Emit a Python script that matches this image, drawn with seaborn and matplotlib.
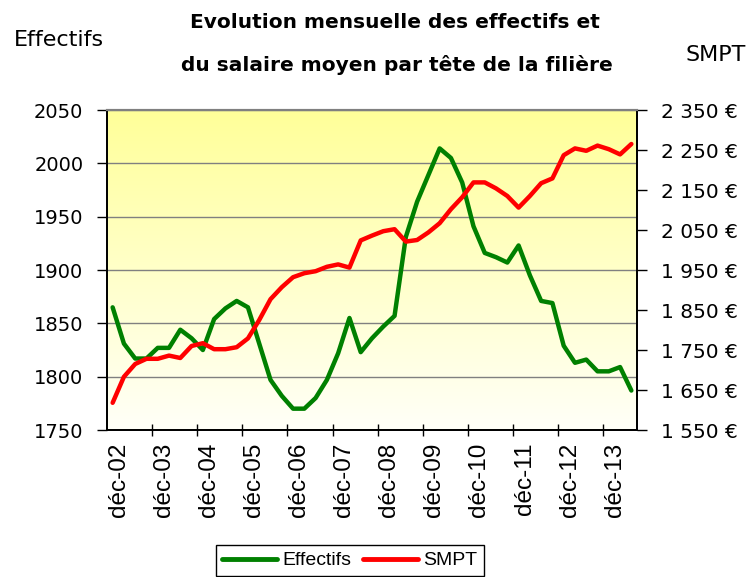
import numpy as np
import pandas as pd
import matplotlib
matplotlib.use("Agg")
import matplotlib.pyplot as plt
import seaborn as sns
from matplotlib.colors import LinearSegmentedColormap
from matplotlib.transforms import ScaledTranslation
from matplotlib.lines import Line2D

# ---- data (quarterly, déc-02 .. juin-14) ----
effectifs = [1865, 1831, 1817, 1817, 1827, 1827, 1844, 1836, 1825, 1854,
             1864, 1871, 1865, 1831, 1797, 1782, 1770, 1770, 1780, 1797,
             1822, 1855, 1823, 1836, 1847, 1857, 1931, 1964, 1989, 2014,
             2005, 1982, 1941, 1916, 1912, 1907, 1923, 1895, 1871, 1869,
             1829, 1813, 1816, 1805, 1805, 1809, 1787]
smpt = [1618, 1683, 1715, 1728, 1728, 1736, 1730, 1760, 1767, 1752,
        1752, 1757, 1779, 1825, 1877, 1907, 1932, 1942, 1947, 1958,
        1964, 1956, 2024, 2036, 2047, 2052, 2021, 2025, 2044, 2067,
        2102, 2132, 2169, 2169, 2154, 2135, 2106, 2135, 2167, 2179,
        2237, 2254, 2248, 2261, 2252, 2239, 2265]
x_labels = ["déc-02", "déc-03", "déc-04", "déc-05", "déc-06", "déc-07",
            "déc-08", "déc-09", "déc-10", "déc-11", "déc-12", "déc-13"]
left_ticks = [1750, 1800, 1850, 1900, 1950, 2000, 2050]
right_ticks = [1550, 1650, 1750, 1850, 1950, 2050, 2150, 2250, 2350]
right_tick_labels = ["1 550 €", "1 650 €", "1 750 €", "1 850 €", "1 950 €",
                     "2 050 €", "2 150 €", "2 250 €", "2 350 €"]
title_lines = ["Evolution mensuelle des effectifs et",
               "du salaire moyen par tête de la filière"]

sns.set_theme(style="white")
plt.rcParams["font.family"] = ["DejaVu Sans"]
plt.rcParams["text.color"] = "black"

W, H = 751, 577
fig = plt.figure(figsize=(W / 100, H / 100), dpi=100)
ax = fig.add_axes([107 / W, 1 - 430 / H, 530 / W, 320 / H])

df = pd.DataFrame({"t": np.arange(len(effectifs)), "Effectifs": effectifs, "SMPT": smpt})

# gradient background
grad = np.linspace(0, 1, 256).reshape(-1, 1)
cmap = LinearSegmentedColormap.from_list("g", ["#FFFFF8", "#FFFF99"])
ax.imshow(grad, extent=[0, 1, 0, 1], transform=ax.transAxes, cmap=cmap,
          aspect="auto", origin="lower", zorder=0)

sns.lineplot(data=df, x="t", y="Effectifs", ax=ax, color="#008000",
             linewidth=3.2, legend=False, zorder=3)
ax2 = ax.twinx()
sns.lineplot(data=df, x="t", y="SMPT", ax=ax2, color="#FF0000",
             linewidth=3.2, legend=False, zorder=3)

n = len(effectifs)
ax.set_xlim(-0.5, n - 0.5)
ax.set_ylim(left_ticks[0], left_ticks[-1])
ax2.set_ylim(right_ticks[0], right_ticks[-1])
for a in (ax, ax2):
    a.set_xlabel("")
    a.set_ylabel("")

# x ticks
ax.set_xticks(np.arange(0, 4 * len(x_labels), 4))
ax.set_xticklabels(x_labels, rotation=90, family="Liberation Sans", fontsize=17.5)
ax.set_xticks(np.arange(3.5, n - 1, 4), minor=True)
ax.tick_params(axis="x", which="major", length=0, pad=9, colors="black")
ax.tick_params(axis="x", which="minor", direction="inout", length=9, width=1,
               color="black", bottom=True)
off = ScaledTranslation(6 / 100, 0, fig.dpi_scale_trans)
for lab in ax.get_xticklabels():
    lab.set_transform(lab.get_transform() + off)

# y ticks
ax.set_yticks(left_ticks)
ax.set_yticklabels([str(v) for v in left_ticks])
ax.tick_params(axis="y", direction="out", length=7, width=1, pad=10,
               labelsize=14, colors="black", left=True)
ax2.set_yticks(right_ticks)
ax2.set_yticklabels(right_tick_labels)
ax2.tick_params(axis="y", direction="out", length=7, width=1, pad=10,
                labelsize=14.5, colors="black", right=True)

ax.grid(axis="y", color="#808080", linewidth=1)
ax.grid(axis="x", visible=False)
ax2.grid(False)

for a in (ax, ax2):
    for s in ("left", "right", "bottom"):
        a.spines[s].set_color("black")
        a.spines[s].set_linewidth(1.3)
    a.spines["top"].set_color("#808080")
    a.spines["top"].set_linewidth(1.5)

# titles
fig.text(395 / W, 1 - 22 / H, title_lines[0], ha="center", va="center",
         fontsize=14.5, fontweight="bold", color="black")
fig.text(397 / W, 1 - 65 / H, title_lines[1], ha="center", va="center",
         fontsize=14.5, fontweight="bold", color="black")
fig.text(14 / W, 1 - 40 / H, "Effectifs", ha="left", va="center",
         fontsize=16, color="black")
fig.text(746 / W, 1 - 55 / H, "SMPT", ha="right", va="center",
         fontsize=16, color="black")

handles = [Line2D([], [], color="#008000", linewidth=3.5),
           Line2D([], [], color="#FF0000", linewidth=3.5)]
leg = fig.legend(handles, ["Effectifs", "SMPT"], loc="upper center",
                 bbox_to_anchor=(350 / W, 1 - 545 / H), ncol=2, frameon=True,
                 fancybox=False, edgecolor="black", framealpha=1,
                 prop={"family": "Liberation Sans", "size": 14},
                 handlelength=2.8, handletextpad=0.3, columnspacing=0.6,
                 borderpad=0.35, borderaxespad=0)
leg.get_frame().set_linewidth(1)
for t in leg.get_texts():
    t.set_color("black")

fig.savefig("out.png", dpi=100)
